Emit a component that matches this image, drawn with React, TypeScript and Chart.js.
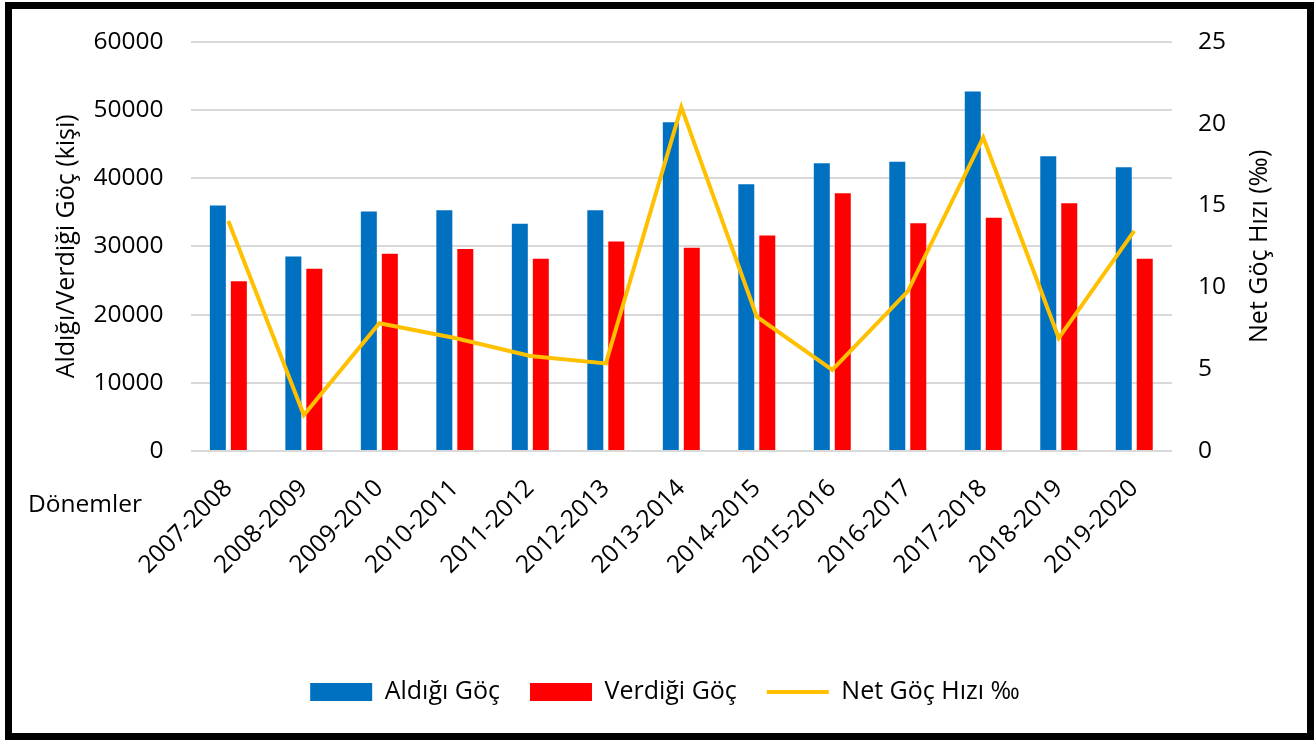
import React, { useEffect, useRef } from 'react';
import { Chart, registerables } from 'chart.js';

Chart.register(...registerables);

const categories = [
  '2007-2008', '2008-2009', '2009-2010', '2010-2011', '2011-2012', '2012-2013', '2013-2014',
  '2014-2015', '2015-2016', '2016-2017', '2017-2018', '2018-2019', '2019-2020',
];
const aldigiGoc = [36000, 28500, 35100, 35300, 33300, 35300, 48200, 39100, 42200, 42400, 52700, 43200, 41600];
const verdigiGoc = [24900, 26700, 28900, 29600, 28200, 30700, 29800, 31600, 37800, 33400, 34200, 36300, 28200];
const netGocHizi = [14.05, 2.2, 7.8, 6.9, 5.8, 5.35, 21.0, 8.2, 4.95, 9.75, 19.15, 6.9, 13.45];

const seriesNames = ['Aldığı Göç', 'Verdiği Göç', 'Net Göç Hızı ‰'];
const leftTitle = 'Aldığı/Verdiği Göç (kişi)';
const rightTitle = 'Net Göç Hızı (‰)';
const xCaption = 'Dönemler';

const FONT = "'Open Sans', sans-serif";

const extraText = {
  id: 'extraText',
  afterDraw(chart: any) {
    const ctx = chart.ctx;
    const area = chart.chartArea;
    ctx.save();
    ctx.fillStyle = '#000';
    ctx.font = `25px ${FONT}`;
    ctx.textAlign = 'center';
    ctx.textBaseline = 'middle';
    ctx.translate(1260, (area.top + area.bottom) / 2);
    ctx.rotate(-Math.PI / 2);
    ctx.fillText(rightTitle, 0, 0);
    ctx.restore();

    ctx.save();
    ctx.fillStyle = '#000';
    ctx.font = `24.5px ${FONT}`;
    ctx.textAlign = 'left';
    ctx.textBaseline = 'middle';
    ctx.fillText(xCaption, 28, 505);
    ctx.restore();
  },
};

export default function App() {
  const canvasRef = useRef<HTMLCanvasElement | null>(null);

  useEffect(() => {
    const canvas = canvasRef.current;
    if (!canvas) return;
    Chart.defaults.font.family = FONT;
    Chart.defaults.color = '#000';
    const defaultGen = Chart.defaults.plugins.legend.labels.generateLabels;
    const chart = new Chart(canvas, {
      type: 'bar',
      data: {
        labels: categories,
        datasets: [
          {
            type: 'bar',
            label: seriesNames[0],
            data: aldigiGoc,
            backgroundColor: '#0070C0',
            borderWidth: 0,
            yAxisID: 'y',
            order: 1,
            categoryPercentage: 0.556,
            barPercentage: 0.762,
          },
          {
            type: 'bar',
            label: seriesNames[1],
            data: verdigiGoc,
            backgroundColor: '#FF0000',
            borderWidth: 0,
            yAxisID: 'y',
            order: 2,
            categoryPercentage: 0.556,
            barPercentage: 0.762,
          },
          {
            type: 'line',
            label: seriesNames[2],
            data: netGocHizi,
            borderColor: '#FFC000',
            backgroundColor: '#FFC000',
            borderWidth: 4,
            pointRadius: 0,
            tension: 0,
            yAxisID: 'y1',
            order: 0,
          },
        ],
      } as any,
      options: {
        animation: false,
        responsive: false,
        maintainAspectRatio: false,
        layout: { padding: { left: 16, right: 0, top: 40, bottom: 25.5 } },
        plugins: {
          tooltip: { enabled: false },
          legend: {
            position: 'bottom',
            title: { display: true, text: '', font: { size: 10, lineHeight: 1 }, padding: { top: 58.5, bottom: 0 } },
            labels: {
              usePointStyle: true,
              pointStyleWidth: 62,
              boxHeight: 18,
              padding: 30,
              color: '#000',
              font: { size: 25, family: FONT },
              sort: (a: any, b: any) => a.datasetIndex - b.datasetIndex,
              generateLabels: (chart: any) => {
                const items = defaultGen(chart);
                return items.map((it: any) => {
                  if (it.datasetIndex === 2) {
                    return { ...it, pointStyle: 'line', lineWidth: 4, strokeStyle: '#FFC000' };
                  }
                  return { ...it, pointStyle: 'rect', lineWidth: 0 };
                });
              },
            },
          },
        },
        scales: {
          x: {
            grid: { display: false, drawTicks: false },
            border: { display: false },
            afterFit: (scale: any) => { scale.height = 130; },
            ticks: {
              maxRotation: 45,
              minRotation: 45,
              padding: 23,
              color: '#000',
              font: { size: 24.5, family: FONT },
            },
          },
          y: {
            position: 'left',
            min: 0,
            max: 60000,
            afterFit: (scale: any) => { scale.width = 174.6; },
            ticks: {
              stepSize: 10000,
              padding: 27,
              color: '#000',
              font: { size: 24.5, family: FONT },
              callback: (v: any) => String(v),
            },
            grid: { color: '#D9D9D9', lineWidth: 2, drawTicks: false },
            border: { display: false },
            title: {
              display: true,
              text: leftTitle,
              color: '#000',
              font: { size: 25, family: FONT, lineHeight: 1.2 },
              padding: { top: 36, bottom: 0 },
            },
          },
          y1: {
            position: 'right',
            min: 0,
            max: 25,
            afterFit: (scale: any) => { scale.width = 142; },
            ticks: {
              stepSize: 5,
              padding: 26,
              color: '#000',
              font: { size: 24.5, family: FONT },
              callback: (v: any) => String(v),
            },
            grid: { display: false, drawTicks: false },
            border: { display: false },
          },
        },
      } as any,
      plugins: [extraText],
    });
    return () => chart.destroy();
  }, []);

  return (
    <div style={{ position: 'fixed', left: 0, top: 0, width: 1314, height: 740, background: '#fff' }}>
      <canvas ref={canvasRef} width={1314} height={740} style={{ position: 'absolute', left: 0, top: 0, width: 1314, height: 740 }} />
      <div
        style={{
          position: 'absolute',
          left: 5,
          top: 2,
          width: 1309,
          height: 738,
          border: '7px solid #000',
          boxSizing: 'border-box',
          pointerEvents: 'none',
        }}
      />
    </div>
  );
}
